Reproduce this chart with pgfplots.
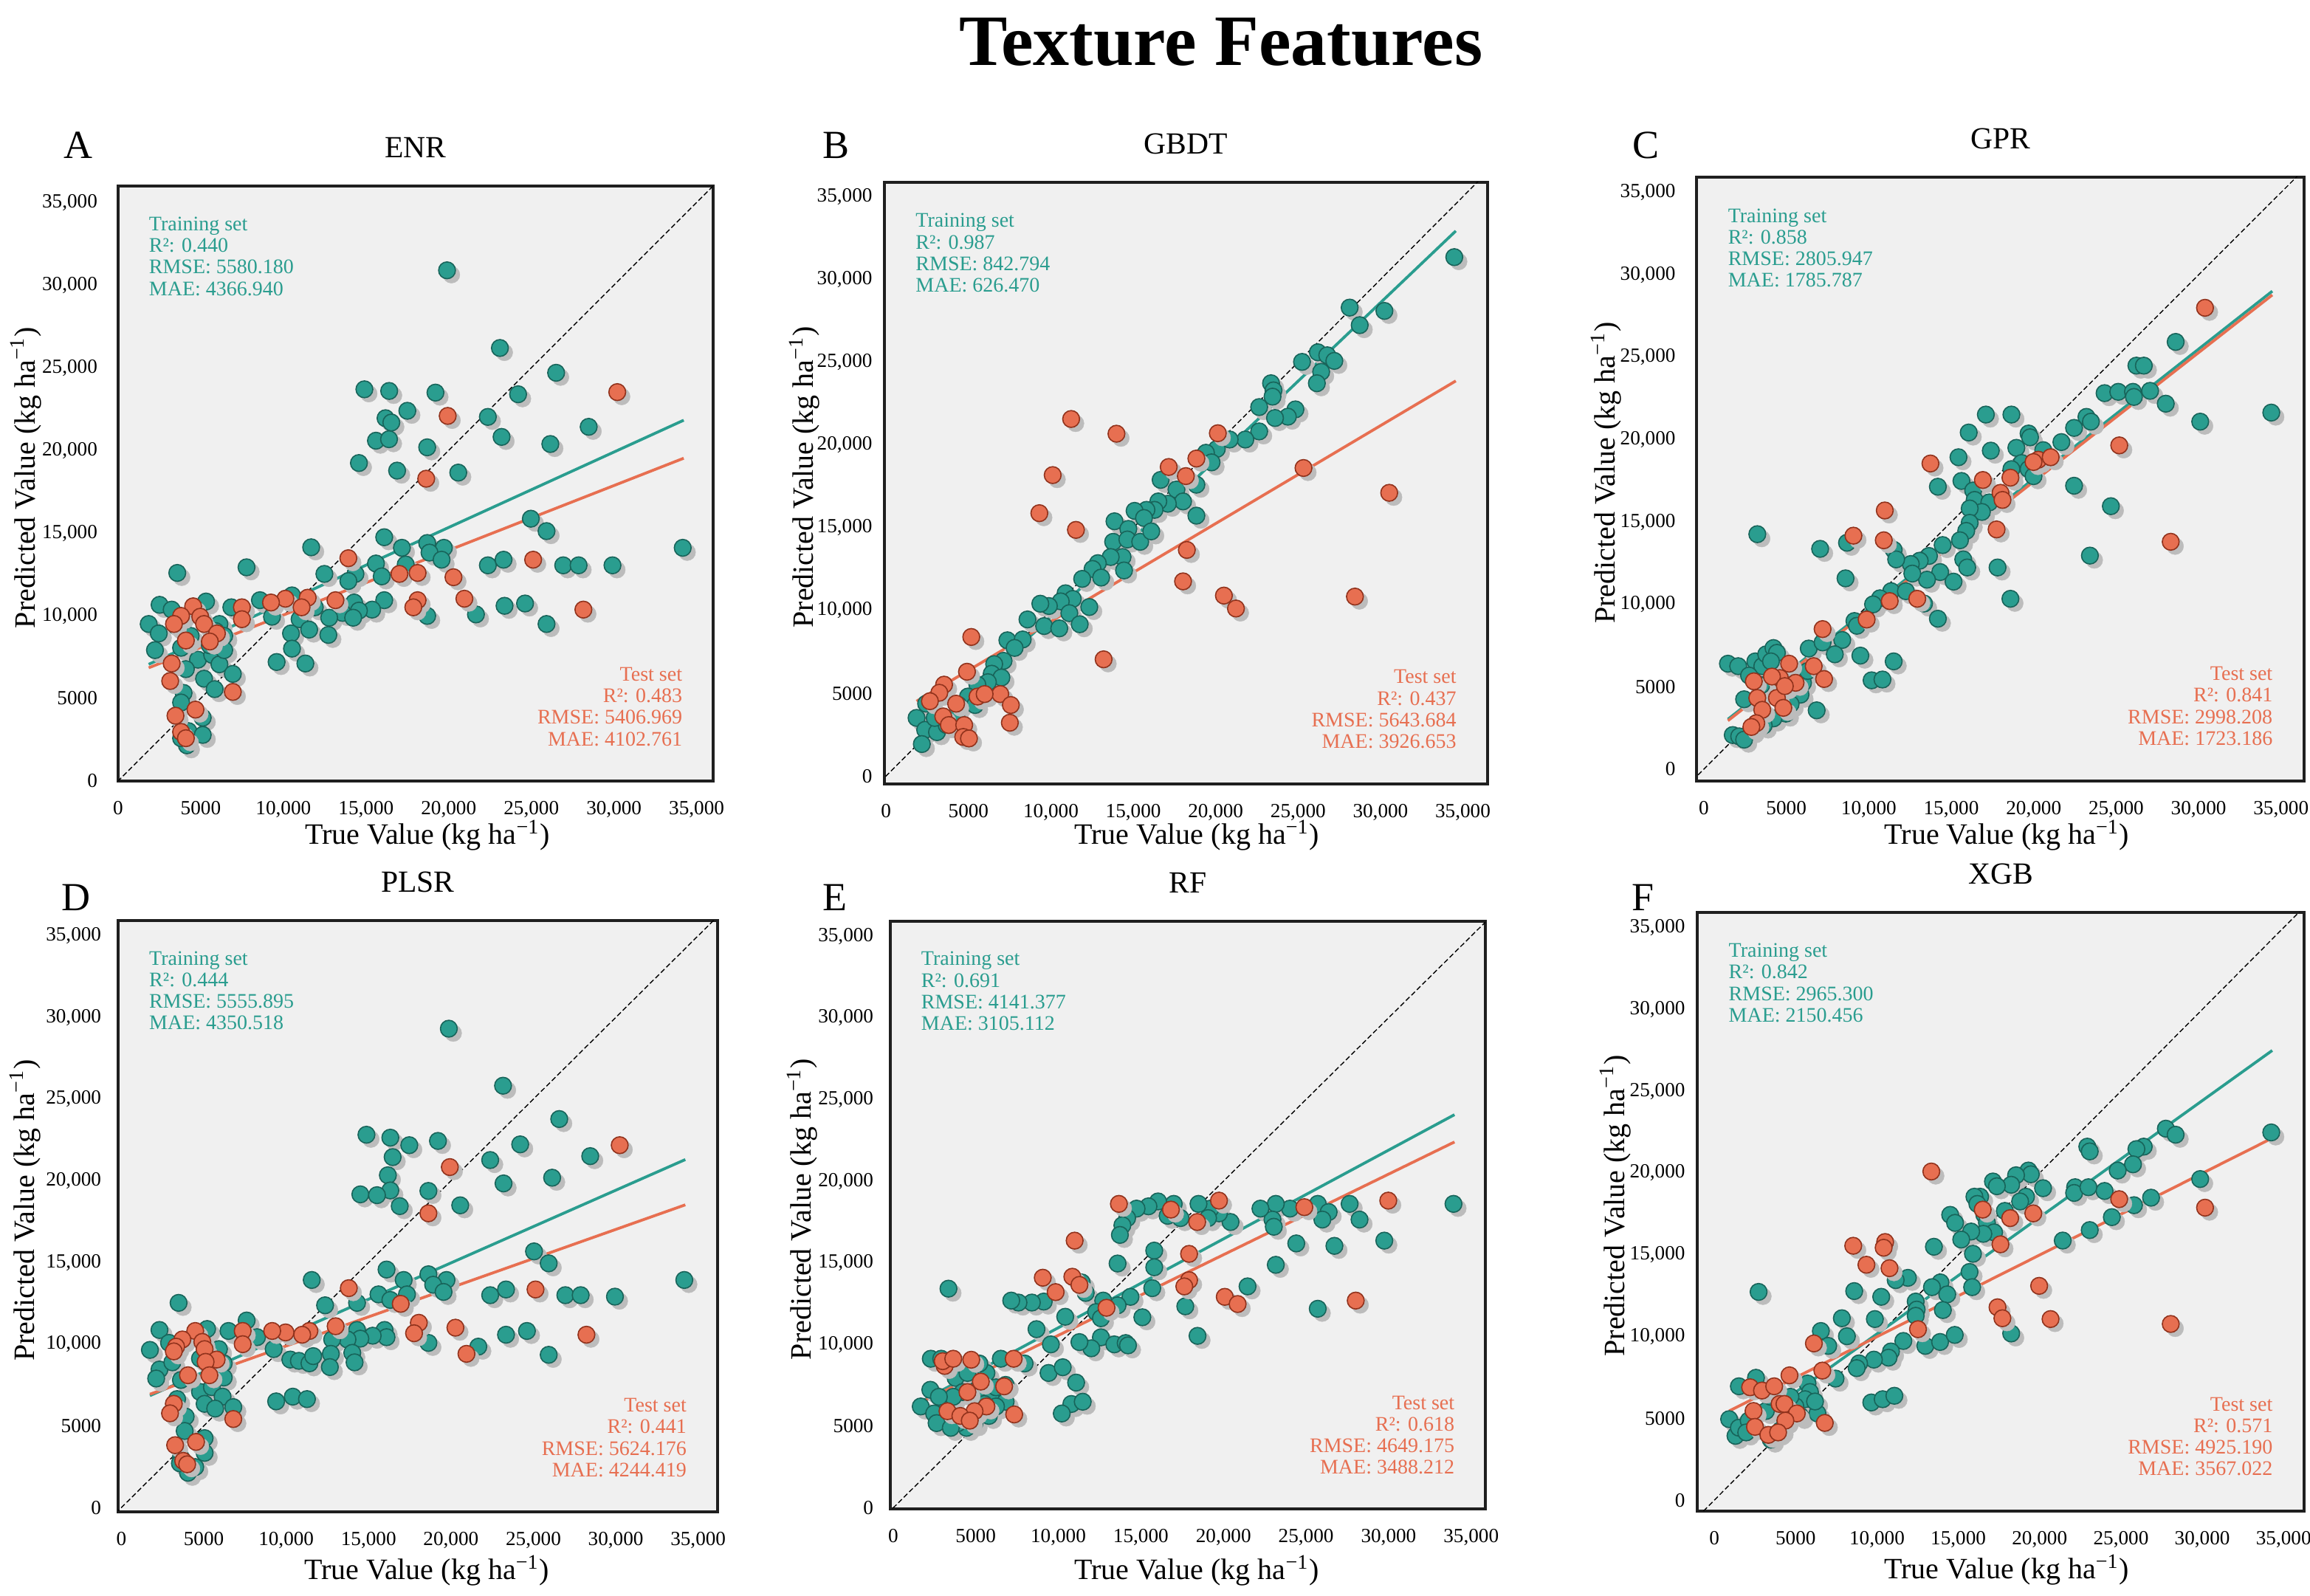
\documentclass[border=0pt]{standalone}
\usepackage{fontspec}
\setmainfont{Liberation Serif}
\usepackage{pgfplots}
\usepackage{pgfplotstable}
\pgfplotsset{compat=1.18}
\definecolor{tealc}{RGB}{42,157,143}
\definecolor{tealedge}{RGB}{24,100,90}
\definecolor{orangec}{RGB}{231,111,81}
\definecolor{orangeedge}{RGB}{145,50,28}
\definecolor{bgc}{RGB}{240,240,240}
\definecolor{shadowc}{RGB}{188,188,188}

\pgfplotsset{
  panel/.style={
    scale only axis, anchor=south west,
    scaled ticks=false,
    axis background/.style={fill=bgc},
    axis line style={line width=0.8pt, draw=black!88},
    major tick length=0pt, tick style={draw=none},
    xtick={0,5000,10000,15000,20000,25000,30000,35000},
    ytick={0,5000,10000,15000,20000,25000,30000,35000},
    xticklabels={0,5000,{10,000},{15,000},{20,000},{25,000},{30,000},{35,000}},
    yticklabels={0,5000,{10,000},{15,000},{20,000},{25,000},{30,000},{35,000}},
    ticklabel style={font=\fontsize{6.8}{8}\selectfont},
    xticklabel style={yshift=-3.2pt},
    label style={font=\fontsize{10}{12}\selectfont},
    title style={font=\fontsize{10.4}{12}\selectfont, at={(0.5,1)}, anchor=base, yshift=3.6pt},
    xlabel={True Value (kg ha\textsuperscript{−1})},
    ylabel={Predicted Value (kg ha\textsuperscript{−1})},
  },
  shadowm/.style={only marks, mark=*, mark size=2.85pt, mark options={draw=shadowc, fill=shadowc, line width=0.1pt, xshift=1.5pt, yshift=-1.5pt}},
  trainm/.style={only marks, mark=*, mark size=2.85pt, mark options={draw=tealedge, fill=tealc, line width=0.4pt}},
  testm/.style={only marks, mark=*, mark size=2.85pt, mark options={draw=orangeedge, fill=orangec, line width=0.4pt}},
  diag/.style={black, dash pattern=on 1.7pt off 0.9pt, line width=0.35pt},
  trainl/.style={tealc, line width=0.95pt},
  testl/.style={orangec, line width=0.95pt},
}
\newcommand{\trainnote}[3]{\node[anchor=north west, align=left, text=tealc, inner sep=0pt, font=\fontsize{7}{7.3}\selectfont] at (rel axis cs:0.051,0.949) {Training set\\R²: #1\\RMSE: #2\\MAE: #3};}
\newcommand{\testnote}[3]{\node[anchor=south east, align=right, text=orangec, inner sep=0pt, font=\fontsize{7}{7.3}\selectfont] at (rel axis cs:0.949,0.058) {Test set\\R²: #1\\RMSE: #2\\MAE: #3};}

% ---------------- Panel A (ENR) ----------------
\pgfplotstableread{
x y
19900 30900
23100 26200
26500 24700
14900 23700
16400 23600
19200 23500
24200 23400
17500 22400
16180 21950
16530 21690
22370 22030
15600 20590
16390 20680
18700 20190
23200 20820
26150 20390
28470 21430
14570 19240
16880 18780
20580 18660
24970 15870
25920 15120
16100 14750
11680 14140
17170 14110
18700 14400
19710 14110
18840 13820
19570 13390
17400 13100
15600 13160
15950 12380
22370 13050
23320 13390
26930 13050
27860 13050
29910 13050
34160 14110
3580 12590
7770 12930
12480 12530
14360 12530
13930 12100
14280 10800
16100 10940
15370 10370
14570 10310
13580 10170
12770 9880
14220 9880
18700 9990
21650 10080
23380 10600
24620 10740
25920 9500
12720 8840
10460 8930
10520 8010
11330 7110
9590 7200
10980 9790
11560 9160
11900 10510
8580 10940
10520 11230
6850 10510
9310 9940
2510 10660
1850 9500
2460 8930
2230 7920
3240 10370
5320 10860
4830 7340
5690 7630
6130 7060
6940 6480
5200 6190
4100 6770
3960 5330
5840 5560
3810 4750
5120 3830
4250 3020
5120 2790
4160 2160
3810 2590
6130 9500
5900 9070
6420 8780
5550 8210
4390 8780
3530 9360
3810 8060
6420 7920
}\trainA
\pgfplotstableread{
x y
30200 23530
19940 22090
18640 18290
13930 13480
25110 13390
17020 12530
18120 12590
20290 12330
20950 11030
18120 10940
17860 10510
28150 10370
13150 10940
11470 11090
11100 10510
10120 11030
9250 10800
7490 10510
7490 9790
6940 5390
4540 10570
3810 9990
4970 9940
3380 9500
5200 9500
5980 8930
4100 8500
5550 8440
3240 7110
3150 6050
4680 4320
3470 3950
3810 2970
4100 2590
}\testA

% ---------------- Panel B (GBDT) ----------------
\pgfplotstableread{
x y
34480 31350
28130 28300
30240 28100
28740 27240
26200 25600
26770 25420
27200 25080
25240 25020
26400 24420
26140 23730
23360 23730
23510 23300
23450 22920
22640 22290
24840 22150
24380 21710
23600 21630
22640 20820
21800 20330
20850 20330
20070 19760
19410 19530
19750 18950
18830 17600
16660 17890
17620 17310
18020 16590
17100 16450
16520 16590
16290 16080
15800 16080
15080 16020
15650 15590
18830 15730
13860 15390
14700 14930
13780 14150
14640 14290
15420 14150
16090 14780
14350 13230
13630 13230
14440 12420
12850 12860
12530 12510
13050 11990
11900 11910
10890 11040
11330 10700
10600 10550
12330 10210
11120 9840
9880 10270
9360 10410
8580 9460
9590 9060
10510 8920
11750 9170
7360 8200
8290 8250
7800 7740
7130 6960
6560 6760
6410 6180
7000 5950
6180 5670
5540 5520
4970 4800
5400 4290
4390 4290
2430 4370
1850 3510
2370 2790
2170 1930
3090 2650
3670 3080
4250 3650
2950 3510
}\trainB
\pgfplotstableread{
x y
11230 21570
13980 20680
20130 20710
18830 19180
17150 18670
18190 18120
10110 18180
9300 15880
11520 14870
18250 13660
18020 11760
25330 18610
30530 17110
20500 10900
21230 10120
28450 10840
13200 7050
5170 8400
4910 6300
6930 4950
7570 4290
7510 3220
3520 5520
3230 5030
5550 4800
5980 4950
4250 4370
3470 3600
3810 3080
4740 3080
4680 2360
5030 2270
2660 4520
}\testB

% ---------------- Panel C (GPR) ----------------
\pgfplotstableread{
x y
34410 21640
30100 21090
28610 25930
26230 24490
26680 24490
24300 22820
25130 22900
26020 22900
26080 22590
27060 22960
28010 22180
23200 21380
23470 21090
22450 20710
21680 19850
17100 21520
18650 21520
16060 20430
19690 20370
19780 20140
17400 19330
18950 19500
20580 19360
19270 18580
18650 18210
19690 18210
19990 17780
15440 18930
22450 17200
14190 17140
15620 17490
16330 16910
16420 16340
17310 16190
16860 15610
16120 15820
16120 14950
15910 14460
24680 15960
15530 13890
14480 13600
13650 12940
13090 12650
15730 12730
15970 12240
14330 11960
13530 11500
15140 11380
17810 12240
23410 12960
18590 10340
12550 12450
12640 11870
11510 13310
11660 12730
8680 13740
7050 13370
3240 14260
8590 11580
11360 10800
10680 10370
10260 10000
12250 10800
13350 10050
14190 9130
9130 8990
9280 8700
8390 7840
7940 6970
6360 7320
7200 7690
9490 6890
11510 6540
10170 5390
10830 5440
6840 3570
1460 6400
2080 6250
3120 6540
3540 6250
3780 6970
4220 7350
4430 7060
4070 6540
2440 4240
2740 5680
3480 5100
4670 5390
5560 5530
6010 5240
6300 5960
5860 4520
5260 3950
4970 3370
4220 3080
3630 2650
2880 2360
1750 2070
2140 1990
2440 1790
}\trainC
\pgfplotstableread{
x y
30390 28000
25190 19650
13740 18550
20280 18780
21030 18930
19990 18640
16920 17550
18590 17690
17990 16770
18110 16340
17750 14550
10970 15700
9070 14170
10910 13890
28310 13800
12940 10340
11270 10200
9870 9080
7200 8500
6660 6250
7290 5470
5170 6400
4610 5530
4130 5620
3030 5330
5560 5240
3240 4320
4430 4320
4910 5040
3540 3600
4820 3720
3180 2790
2880 2560
}\testC

% ---------------- Panel D (PLSR) ----------------
\pgfplotstableread{
x y
19870 29310
23160 25820
26570 23780
14870 22820
16320 22640
17470 22180
19210 22440
24200 22230
16460 21450
22380 21270
28450 21510
16170 20340
16320 19410
26140 20190
23190 19840
14500 19170
15510 19120
18630 19380
16890 18450
20560 18500
25040 15680
25930 14950
16090 14570
11550 13930
17130 13930
18630 14280
19730 13930
18920 13640
19550 13200
17330 13050
15600 13050
16320 12710
22380 13000
23340 13350
26940 13000
27870 13000
29950 12910
34160 13930
3470 12530
12360 12380
14300 12530
7600 11450
2310 10870
5200 10930
14300 10870
15970 10870
16090 10430
15250 10520
14500 10340
13720 10290
12790 10290
21660 9850
23340 10580
24610 10810
25930 9350
18630 10080
12710 9410
14010 9470
14150 8890
10250 9060
10770 8980
11410 8830
11640 9270
12650 8600
8230 10430
9240 9700
6500 10810
1730 9650
2310 8450
2110 7900
3090 8890
2890 10080
9390 6500
10400 6790
11260 6640
4770 7080
5490 7370
6140 6790
6790 6150
5050 6350
5690 6060
3380 6640
3900 5570
3840 4690
5050 4250
5050 3350
3610 3060
4480 2480
4040 2130
3550 2710
5920 9700
6210 8830
5340 8680
3610 7810
6210 7960
4770 9120
}\trainD
\pgfplotstableread{
x y
30240 22180
19930 20840
18630 18010
13800 13430
25130 13350
16950 12470
18050 11310
17760 10670
20270 11010
20940 9410
28220 10580
13000 11100
11410 10810
10970 10580
9960 10720
9150 10810
7360 10810
7360 10000
6790 5420
4480 10810
3700 10290
4910 10140
3320 9850
5050 9700
3180 9560
5780 9060
5110 8920
4040 8100
5340 8100
3180 6350
2950 5770
4530 4020
3260 3820
3750 2860
3990 2650
}\testD

% ---------------- Panel E (RF) ----------------
\pgfplotstableread{
x y
33930 18610
29740 16360
27640 18610
28240 17650
25710 18610
26370 18110
25990 17650
26720 16040
25710 12190
24410 16190
24030 18320
23170 18610
22970 17650
23050 17210
23170 14880
22240 18320
21460 13560
20430 17500
19730 18030
19210 18320
18490 18610
19070 17740
18430 10530
17690 12340
17400 17740
16990 18610
16620 17880
16040 18760
15460 18460
14740 18320
14170 17740
13880 17300
13730 16710
13590 14960
15810 15750
15810 14730
15690 13450
15090 11670
14370 12920
13590 12400
12720 12690
12290 11990
12580 11610
11660 13160
11420 13800
10420 11700
12580 10440
12000 9770
11280 10150
13390 10010
14080 10090
14220 9950
9550 10010
8680 10940
9410 8260
10270 8610
11080 7670
10790 6360
11480 6500
10210 5780
9120 12630
8400 12570
7590 12570
7150 12690
7960 8840
6520 9130
3350 13420
2280 9130
2910 9130
2250 7230
1670 6210
2480 5780
2630 5190
3200 6500
3780 7960
4500 8260
4210 7090
5080 7230
5650 8260
5940 6650
6230 7380
6810 7530
5510 5780
4930 5190
4440 4900
3920 5190
3490 4900
3640 6800
2770 6800
5800 5630
6810 6500
5220 8840
5510 6360
6230 6210
}\trainE
\pgfplotstableread{
x y
29980 18810
28010 12690
24900 18410
19730 18810
18410 17500
16820 18260
13670 18610
17920 15550
17920 13940
17630 13560
20080 12920
20860 12480
12920 12250
10990 16360
10850 14150
11280 13650
9060 14090
9840 13210
7300 9130
6720 7440
7330 5720
3120 8690
3000 8980
3640 9130
4730 9070
5310 7730
4500 7090
5650 6210
4930 5920
3290 5920
4070 5630
4640 5340
}\testE

% ---------------- Panel F (XGB) ----------------
\pgfplotstableread{
x y
34240 22480
29870 19630
27760 22710
28360 22340
26400 21610
25950 21460
25740 20530
24800 20150
22930 21610
23080 21320
22180 19130
22120 18780
23000 19130
23990 18900
26850 18490
25800 18030
24440 17300
23080 16510
21420 15870
19310 20150
19460 19920
18550 19860
18250 19280
20210 19070
19160 18550
18800 18260
17130 19480
17370 19190
16340 18550
15990 18550
16170 18110
17860 17680
16600 17440
16760 16950
17200 16370
16540 16280
15790 16420
15180 15930
14500 17440
14800 16950
15900 15060
15690 13950
15850 13020
13500 15490
13900 13310
13380 13020
14320 12580
14050 11620
11900 13590
11150 13450
12380 12140
12440 11650
12380 11270
10260 12430
8600 12780
7840 11120
8150 10020
9870 11070
6550 10340
7000 9430
11620 9730
12970 9430
13880 9670
14780 10100
18250 10190
10860 9090
10710 8710
9810 8590
8900 8360
8750 8070
7450 7430
9650 5970
10350 6170
11070 6380
2720 12730
2560 7480
1510 6960
910 4950
1300 3930
1510 4430
5730 7130
5880 6610
5580 6170
6340 5300
5280 5150
4370 4860
4070 4280
3470 3700
3170 5450
2110 4860
1960 4140
4980 5740
6190 6030
4680 6320
3470 6320
}\trainF
\pgfplotstableread{
x y
13340 20090
16500 17760
18190 17240
19610 17530
24890 18400
30170 17880
17590 15640
8540 15550
10500 15780
10410 15430
9350 14390
10770 14180
19970 13100
17410 11790
17710 11120
20670 11070
28060 10770
12520 10450
6120 9580
6640 7920
4620 7630
6790 4720
2200 6900
2930 6700
3680 6960
4010 5880
4310 5880
2410 5450
5070 5300
2500 4480
4370 4860
3320 3990
3920 4140
}\testF

\begin{document}
\begin{tikzpicture}
\useasboundingbox (0,0) rectangle (782.25pt,540.5pt);

\node[anchor=base, font=\bfseries\fontsize{24.5}{28}\selectfont] at (413.5pt,518.25pt) {Texture Features};

\node[anchor=base west, inner sep=0pt, font=\fontsize{13.5}{16}\selectfont] at (21.5pt,486.75pt) {A};
\node[anchor=base west, inner sep=0pt, font=\fontsize{13.5}{16}\selectfont] at (278.5pt,486.75pt) {B};
\node[anchor=base west, inner sep=0pt, font=\fontsize{13.5}{16}\selectfont] at (552.75pt,486.75pt) {C};
\node[anchor=base west, inner sep=0pt, font=\fontsize{13.5}{16}\selectfont] at (20.75pt,232pt) {D};
\node[anchor=base west, inner sep=0pt, font=\fontsize{13.5}{16}\selectfont] at (278.5pt,232pt) {E};
\node[anchor=base west, inner sep=0pt, font=\fontsize{13.5}{16}\selectfont] at (552.5pt,232pt) {F};

% A
\begin{axis}[panel, at={(40pt,276pt)}, width=201.5pt, height=201.5pt,
  xmin=0, xmax=36000, ymin=0, ymax=36000, title={ENR},
  yticklabel style={xshift=-3.5pt},
  xlabel style={at={(axis description cs:0.52,0)}, anchor=base, yshift=-21.5pt},
  ylabel style={at={(axis description cs:-0.140,0.51)}, anchor=base}]
\addplot[shadowm] table {\trainA};
\addplot[trainm] table {\trainA};
\addplot[shadowm] table {\testA};
\addplot[testm] table {\testA};
\addplot[diag] coordinates {(-2000,-2000) (40000,40000)};
\addplot[trainl] coordinates {(1850,7060) (34220,21830)};
\addplot[testl] coordinates {(1850,6850) (34220,19530)};
\trainnote{0.440}{5580.180}{4366.940}
\testnote{0.483}{5406.969}{4102.761}
\end{axis}

% B
\begin{axis}[panel, at={(299.5pt,275pt)}, width=204.25pt, height=203.75pt,
  xmin=-100, xmax=36500, ymin=-480, ymax=35870, title={GBDT},
  yticklabel style={xshift=-0.6pt},
  xlabel style={at={(axis description cs:0.518,0)}, anchor=base, yshift=-20.5pt},
  ylabel style={at={(axis description cs:-0.118,0.51)}, anchor=base}]
\addplot[shadowm] table {\trainB};
\addplot[trainm] table {\trainB};
\addplot[shadowm] table {\testB};
\addplot[testm] table {\testB};
\addplot[diag] coordinates {(-2000,-2000) (40000,40000)};
\addplot[trainl] coordinates {(3090,3080) (34570,32930)};
\addplot[testl] coordinates {(1850,4520) (34570,23870)};
\trainnote{0.987}{842.794}{626.470}
\testnote{0.437}{5643.684}{3926.653}
\end{axis}

% C
\begin{axis}[panel, at={(574.5pt,276pt)}, width=205.75pt, height=204.5pt,
  xmin=-446, xmax=36400, ymin=-720, ymax=35930, title={GPR},
  yticklabel style={xshift=-3.6pt},
  xlabel style={at={(axis description cs:0.511,0)}, anchor=base, yshift=-21.5pt},
  ylabel style={at={(axis description cs:-0.134,0.51)}, anchor=base}]
\addplot[shadowm] table {\trainC};
\addplot[trainm] table {\trainC};
\addplot[shadowm] table {\testC};
\addplot[testm] table {\testC};
\addplot[diag] coordinates {(-2000,-2000) (40000,40000)};
\addplot[trainl] coordinates {(1460,3030) (34470,29010)};
\addplot[testl] coordinates {(1460,2940) (34470,28780)};
\trainnote{0.858}{2805.947}{1785.787}
\testnote{0.841}{2998.208}{1723.186}
\end{axis}

% D
\begin{axis}[panel, at={(40pt,28.5pt)}, width=203pt, height=200.25pt,
  xmin=-200, xmax=36180, ymin=-260, ymax=35930, title={PLSR},
  yticklabel style={xshift=-2.2pt},
  xlabel style={at={(axis description cs:0.515,0)}, anchor=base, yshift=-23pt},
  ylabel style={at={(axis description cs:-0.140,0.51)}, anchor=base}]
\addplot[shadowm] table {\trainD};
\addplot[trainm] table {\trainD};
\addplot[shadowm] table {\testD};
\addplot[testm] table {\testD};
\addplot[diag] coordinates {(-2000,-2000) (40000,40000)};
\addplot[trainl] coordinates {(1730,6850) (34220,21300)};
\addplot[testl] coordinates {(1730,6940) (34220,18530)};
\trainnote{0.444}{5555.895}{4350.518}
\testnote{0.441}{5624.176}{4244.419}
\end{axis}

% E
\begin{axis}[panel, at={(301.5pt,29.5pt)}, width=201.5pt, height=199pt,
  xmin=-170, xmax=35860, ymin=-60, ymax=35910, title={RF},
  yticklabel style={xshift=-2.2pt},
  xlabel style={at={(axis description cs:0.515,0)}, anchor=base, yshift=-24pt},
  ylabel style={at={(axis description cs:-0.133,0.51)}, anchor=base}]
\addplot[shadowm] table {\trainE};
\addplot[trainm] table {\trainE};
\addplot[shadowm] table {\testE};
\addplot[testm] table {\testE};
\addplot[diag] coordinates {(-2000,-2000) (40000,40000)};
\addplot[trainl] coordinates {(1670,6500) (33990,24070)};
\addplot[testl] coordinates {(1670,6450) (33990,22400)};
\trainnote{0.691}{4141.377}{3105.112}
\testnote{0.618}{4649.175}{3488.212}
\end{axis}

% F
\begin{axis}[panel, at={(574.75pt,28.75pt)}, width=205.5pt, height=202.75pt,
  xmin=-1050, xmax=36260, ymin=-670, ymax=35930, title={XGB},
  yticklabel style={xshift=-0.6pt},
  xlabel style={at={(axis description cs:0.51,0)}, anchor=base, yshift=-23pt},
  ylabel style={at={(axis description cs:-0.12,0.51)}, anchor=base}]
\addplot[shadowm] table {\trainF};
\addplot[trainm] table {\trainF};
\addplot[shadowm] table {\testF};
\addplot[testm] table {\testF};
\addplot[diag] coordinates {(-2000,-2000) (40000,40000)};
\addplot[trainl] coordinates {(1960,4430) (34300,27490)};
\addplot[testl] coordinates {(910,5450) (34300,22130)};
\trainnote{0.842}{2965.300}{2150.456}
\testnote{0.571}{4925.190}{3567.022}
\end{axis}
\end{tikzpicture}
\end{document}
